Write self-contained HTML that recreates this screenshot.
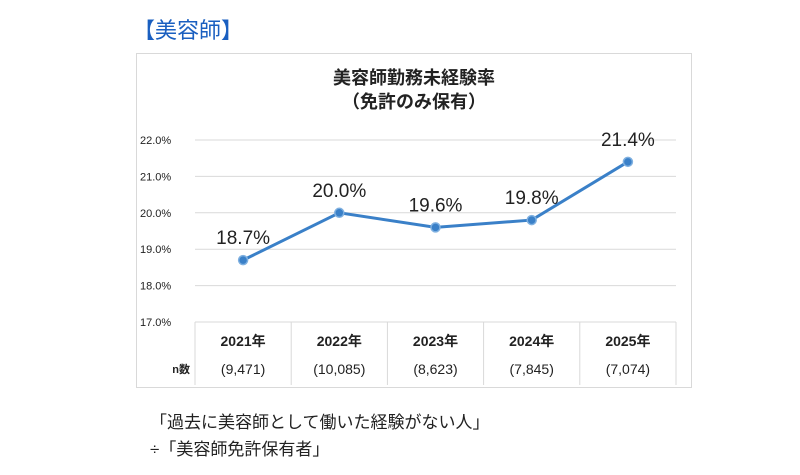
<!DOCTYPE html>
<html><head><meta charset="utf-8"><style>
body{margin:0;width:800px;height:475px;background:#fff;font-family:"Liberation Sans","Noto Sans CJK JP",sans-serif;position:relative;overflow:hidden}
.t{position:absolute;white-space:nowrap}
</style></head><body>
<div class="t" style="left:133px;top:13px;font-size:22px;color:#1a5fc0">【美容師】</div>
<svg width="800" height="475" style="position:absolute;left:0;top:0">
<rect x="136.5" y="53.5" width="555" height="334" fill="#fff" stroke="#d9d9d9"/>
<text x="414" y="84" font-size="18" font-weight="bold" text-anchor="middle" fill="#222">美容師勤務未経験率</text>
<text x="414" y="108" font-size="18" font-weight="bold" text-anchor="middle" fill="#222">（免許のみ保有）</text>
<g id="g"></g>
</svg>
<div class="t" style="left:150px;top:408px;font-size:17px;color:#222">「過去に美容師として働いた経験がない人」</div>
<div class="t" style="left:150px;top:435px;font-size:17px;color:#222">÷「美容師免許保有者」</div>
<script>
const categories=["2021年","2022年","2023年","2024年","2025年"];
const counts=["(9,471)","(10,085)","(8,623)","(7,845)","(7,074)"];
const values=[18.7,20.0,19.6,19.8,21.4];
const yTicks=[17,18,19,20,21,22];
const NS="http://www.w3.org/2000/svg",g=document.getElementById('g');
const x0=195,step=96.2,yMin=17,yMax=22,yb=322,yt=140;
const X=i=>x0+step*(i+0.5),Y=v=>yb-(v-yMin)/(yMax-yMin)*(yb-yt);
function mk(t,a,txt){const e=document.createElementNS(NS,t);for(const k in a)e.setAttribute(k,a[k]);if(txt!=null)e.textContent=txt;g.appendChild(e);return e;}
yTicks.forEach(v=>{
 const l=mk('line',{x1:195,x2:676,y1:Y(v),y2:Y(v),stroke:'#d9d9d9'});
 
 
 const t=mk('text',{x:140,y:Y(v)+4,'font-size':11,fill:'#222'},v.toFixed(1)+'%');
 
 
});
for(let i=0;i<=categories.length;i++){
 const l=mk('line',{x1:x0+step*i,x2:x0+step*i,y1:yb,y2:385,stroke:'#d9d9d9'});
 
 
}
const n=mk('text',{x:190,y:373,'font-size':11,'font-weight':'bold','text-anchor':'end',fill:'#222'},'n数');


categories.forEach((c,i)=>{
 const t=mk('text',{x:X(i),y:346,'font-size':14,'font-weight':'bold','text-anchor':'middle',fill:'#222'},c);
 
 
 const u=mk('text',{x:X(i),y:374,'font-size':14,'text-anchor':'middle',fill:'#222'},counts[i]);
 
 
});
const p=mk('polyline',{points:values.map((v,i)=>X(i)+','+Y(v)).join(' '),fill:'none',stroke:'#3a80c8','stroke-width':3});


values.forEach((v,i)=>{
 const c=mk('circle',{cx:X(i),cy:Y(v),r:4.5,fill:'#3a80c8',stroke:'#7fb0e0','stroke-width':1.5});
 
 
 const t=mk('text',{x:X(i),y:Y(v)-16,'font-size':19,'text-anchor':'middle',fill:'#222'},v.toFixed(1)+'%');
 
 
});
</script>
</body></html>
